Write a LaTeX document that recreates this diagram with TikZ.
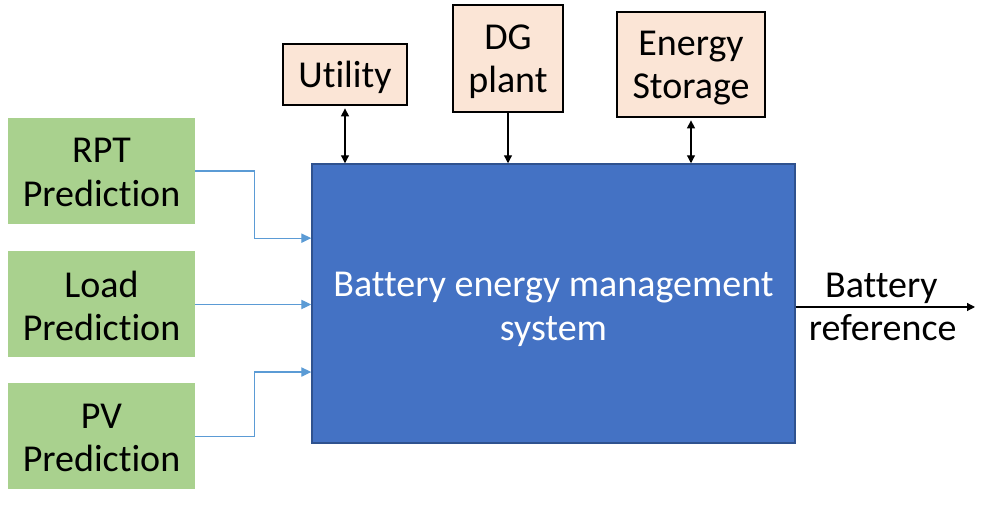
\documentclass[tikz,border=0pt]{standalone}
\usepackage{fontspec}
\setmainfont{Carlito}[Ligatures=NoCommon]
\usetikzlibrary{arrows.meta}
\definecolor{gfill}{HTML}{A9D18E}
\definecolor{pfill}{HTML}{FBE5D6}
\definecolor{bfill}{HTML}{4472C4}
\definecolor{bdraw}{HTML}{2F528F}
\definecolor{lblue}{HTML}{5B9BD5}
\begin{document}
\begin{tikzpicture}[x=0.75pt,y=-0.75pt,
  every node/.style={font=\fontsize{28.5}{32.5}\selectfont, inner sep=0pt, align=center},
  gbox/.style={fill=gfill, minimum width=140.25pt, minimum height=79.5pt},
  pbox/.style={fill=pfill, draw=black, line width=1.1pt},
  bbox/.style={fill=bfill, draw=bdraw, line width=1.1pt},
  btext/.style={text=white},
  barrow/.style={draw=lblue, line width=0.9pt, -{Triangle[length=7.5pt,width=7pt]}},
  karrow/.style={draw=black, line width=0.9pt, -{Triangle[length=6pt,width=6pt]}},
  kdarrow/.style={draw=black, line width=0.9pt, {Triangle[length=6pt,width=6pt]}-{Triangle[length=6pt,width=6pt]}}
]
\useasboundingbox (0,0) rectangle (986,505);
\node[gbox] (rpt) at (101.5,171) {};
\node[gbox] (load) at (101.5,304.5) {};
\node[gbox] (pv) at (101.5,436.5) {};
\node[bbox, minimum width=362.25pt, minimum height=209.25pt] (bems) at (553.5,303.5) {};
\node[pbox, minimum width=93pt, minimum height=45.75pt] (util) at (345,74.5) {};
\node[pbox, minimum width=82.5pt, minimum height=80.25pt] (dg) at (508,58.5) {};
\node[pbox, minimum width=111pt, minimum height=78.75pt] (es) at (691,64.5) {};
\node (rptT) at ([yshift=-1pt]rpt.center) {RPT\\Prediction};
\node (loadT) at ([yshift=-1pt]load.center) {Load\\Prediction};
\node (pvT) at ([yshift=-1pt]pv.center) {PV\\Prediction};
\node[btext] (bemsT) at ([yshift=-4.5pt]bems.center) {Battery energy management\\system};
\node (utilT) at ([yshift=-2pt]util.center) {Utility};
\node (dgT) at ([yshift=-2.5pt]dg.center) {DG\\plant};
\node (esT) at ([yshift=-2.5pt]es.center) {Energy\\Storage};
\coordinate (out) at (975,307);
\draw[karrow] (bems.east |- out) -- node[above=2pt, xshift=-3pt]{Battery} node[below=5pt, xshift=-2pt]{reference} (out);
\draw[barrow] (rpt.east) -- ++(59,0) |- ([yshift=49pt]bems.west);
\draw[barrow] (load.east) -- (load.east -| bems.west);
\draw[barrow] (pv.east) -- ++(59,0) |- ([yshift=-51.4pt]bems.west);
\draw[kdarrow] ([yshift=-2pt]util.south) -- (util.south |- bems.north);
\draw[karrow] (dg.south) -- (dg.south |- bems.north);
\draw[kdarrow] ([yshift=-2pt]es.south) -- (es.south |- bems.north);
\end{tikzpicture}
\end{document}
